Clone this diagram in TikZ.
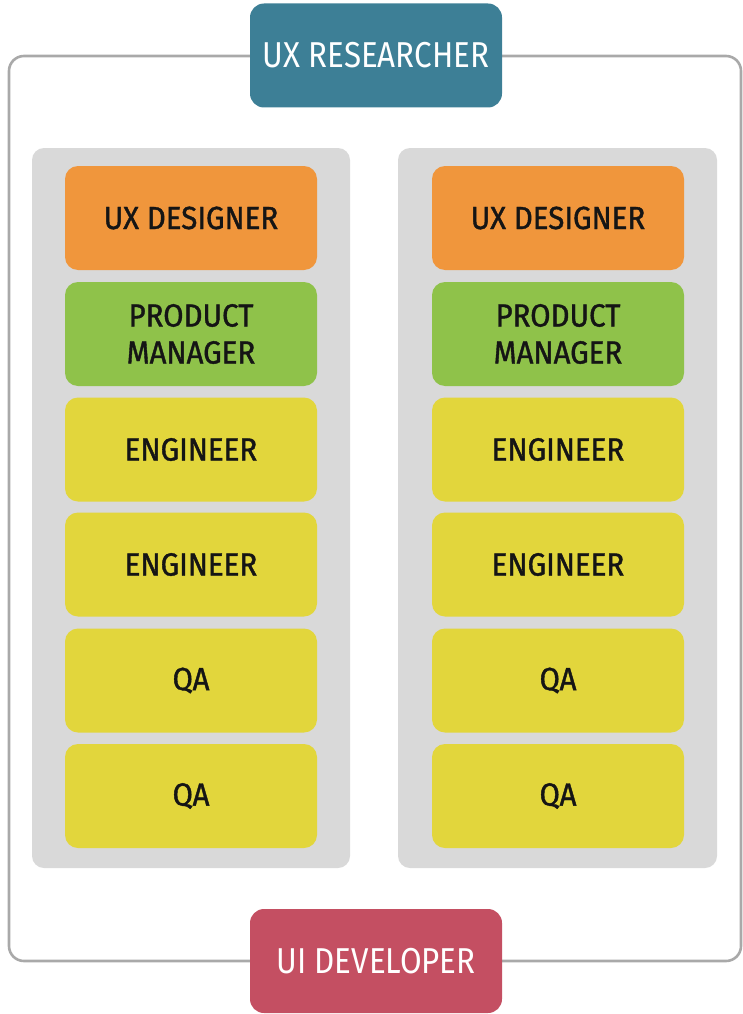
\documentclass[tikz,border=0pt]{standalone}
\usepackage{fontspec}
\newfontfamily\condfont[FakeStretch=0.87]{Fira Sans}
\newfontfamily\innerfont[FakeStretch=0.92,FakeBold=1.2]{Fira Sans}
\definecolor{frameGray}{HTML}{A9A9A9}
\definecolor{colGray}{HTML}{D9D9D9}
\definecolor{resBlue}{HTML}{3D7F96}
\definecolor{devRed}{HTML}{C44F62}
\definecolor{uxOrange}{HTML}{F0963C}
\definecolor{pmGreen}{HTML}{8FC24A}
\definecolor{engYellow}{HTML}{E2D63C}
\definecolor{txtDark}{HTML}{151515}
\begin{document}
\begin{tikzpicture}[x=1pt,y=-1pt,
  rolebox/.style={rounded corners=13pt, minimum width=252pt, minimum height=104pt, inner sep=0pt, align=center, text=txtDark, font=\innerfont\fontsize{32}{37}\selectfont},
  topbox/.style={rounded corners=14pt, minimum width=252pt, minimum height=104pt, inner sep=0pt, align=center, text=white, font=\condfont\fontsize{36}{40}\selectfont},
  column/.style={fill=colGray, rounded corners=12pt}
]
\useasboundingbox (0,0) rectangle (743,1014);
% outer frame
\draw[frameGray, line width=2.6pt, rounded corners=15pt] (9,56) rectangle (741,961);
% columns
\fill[column] (32,148) rectangle (350,868);
\fill[column] (398,148) rectangle (717,868);
% top and bottom roles
\node[topbox, fill=resBlue] (researcher) at (376,55.5) {UX RESEARCHER};
\node[topbox, fill=devRed] (developer) at (376,961) {UI DEVELOPER};
% left team
\node[rolebox, fill=uxOrange] (l1) at (191,218) {UX DESIGNER};
\node[rolebox, fill=pmGreen] (l2) at (191,334) {PRODUCT\\MANAGER};
\node[rolebox, fill=engYellow] (l3) at (191,449.5) {ENGINEER};
\node[rolebox, fill=engYellow] (l4) at (191,564.5) {ENGINEER};
\node[rolebox, fill=engYellow] (l5) at (191,680.5) {QA};
\node[rolebox, fill=engYellow] (l6) at (191,796) {QA};
% right team
\node[rolebox, fill=uxOrange] (r1) at (558,218) {UX DESIGNER};
\node[rolebox, fill=pmGreen] (r2) at (558,334) {PRODUCT\\MANAGER};
\node[rolebox, fill=engYellow] (r3) at (558,449.5) {ENGINEER};
\node[rolebox, fill=engYellow] (r4) at (558,564.5) {ENGINEER};
\node[rolebox, fill=engYellow] (r5) at (558,680.5) {QA};
\node[rolebox, fill=engYellow] (r6) at (558,796) {QA};
\end{tikzpicture}
\end{document}
